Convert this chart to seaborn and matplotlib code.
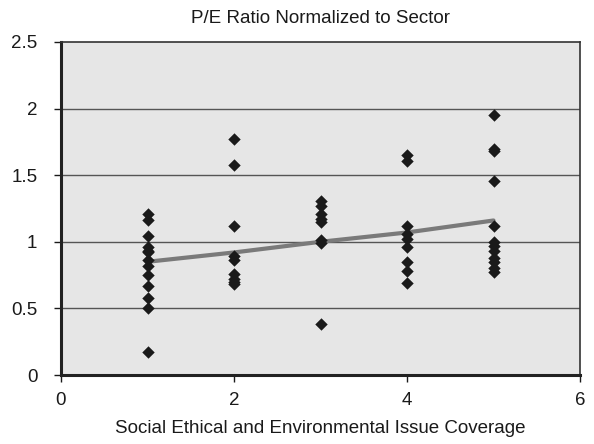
import matplotlib
matplotlib.use("Agg")
import matplotlib.pyplot as plt
import seaborn as sns
import pandas as pd

coverage = [1]*13 + [2]*9 + [3]*8 + [4]*9 + [5]*12
pe_ratio = [1.21, 1.16, 1.04, 0.96, 0.92, 0.86, 0.82, 0.75, 0.67, 0.58, 0.50, 0.93, 0.17,
            1.77, 1.58, 1.12, 0.89, 0.86, 0.76, 0.72, 0.70, 0.68,
            1.31, 1.27, 1.21, 1.17, 1.15, 1.01, 0.99, 0.38,
            1.65, 1.61, 1.12, 1.06, 1.02, 0.96, 0.85, 0.78, 0.69,
            1.95, 1.70, 1.68, 1.46, 1.12, 1.00, 0.97, 0.93, 0.88, 0.85, 0.80, 0.77]
trend_x = [1, 2, 3, 4, 5]
trend_y = [0.85, 0.92, 1.00, 1.07, 1.16]

x_ticks = [0, 2, 4, 6]
y_ticks = [0, 0.5, 1, 1.5, 2, 2.5]
y_tick_labels = ["0", "0.5", "1", "1.5", "2", "2.5"]

sns.set_theme(style="white")
plt.rcParams['font.family'] = ['Liberation Sans', 'DejaVu Sans']

df = pd.DataFrame({"x": coverage, "y": pe_ratio})
tr = pd.DataFrame({"x": trend_x, "y": trend_y})

fig = plt.figure(figsize=(5.94, 4.44), dpi=100)
ax = fig.add_axes([61/594, 69/444, 519/594, 333/444])
ax.set_facecolor("#e6e6e6")

for yt in y_ticks[1:-1]:
    ax.axhline(yt, color="#555555", lw=1.0, zorder=1)

sns.lineplot(data=tr, x="x", y="y", ax=ax, color="#7a7a7a", lw=3, zorder=2)
sns.scatterplot(data=df, x="x", y="y", ax=ax, marker="D", s=40, color="#1a1a1a",
                edgecolor="#1a1a1a", linewidth=0, zorder=3)

ax.set_xlim(0, 6)
ax.set_ylim(0, 2.5)
ax.set_xticks(x_ticks)
ax.set_yticks(y_ticks)
ax.set_yticklabels(y_tick_labels)
ax.tick_params(axis="both", labelsize=13.5, colors="#1a1a1a", length=5, width=1, direction="out",
               left=True, bottom=True)
ax.tick_params(axis="y", pad=12)
ax.tick_params(axis="x", pad=7)
ax.set_xlabel("Social Ethical and Environmental Issue Coverage", fontsize=13.5, color="#1a1a1a", labelpad=8)
ax.set_ylabel("")
ax.set_title("P/E Ratio Normalized to Sector", fontsize=13.5, color="#1a1a1a", pad=13.5)

for side in ["left", "bottom"]:
    ax.spines[side].set_linewidth(2.2)
    ax.spines[side].set_color("#222222")
for side in ["top", "right"]:
    ax.spines[side].set_linewidth(1.2)
    ax.spines[side].set_color("#333333")

fig.savefig("out.png", dpi=100)
